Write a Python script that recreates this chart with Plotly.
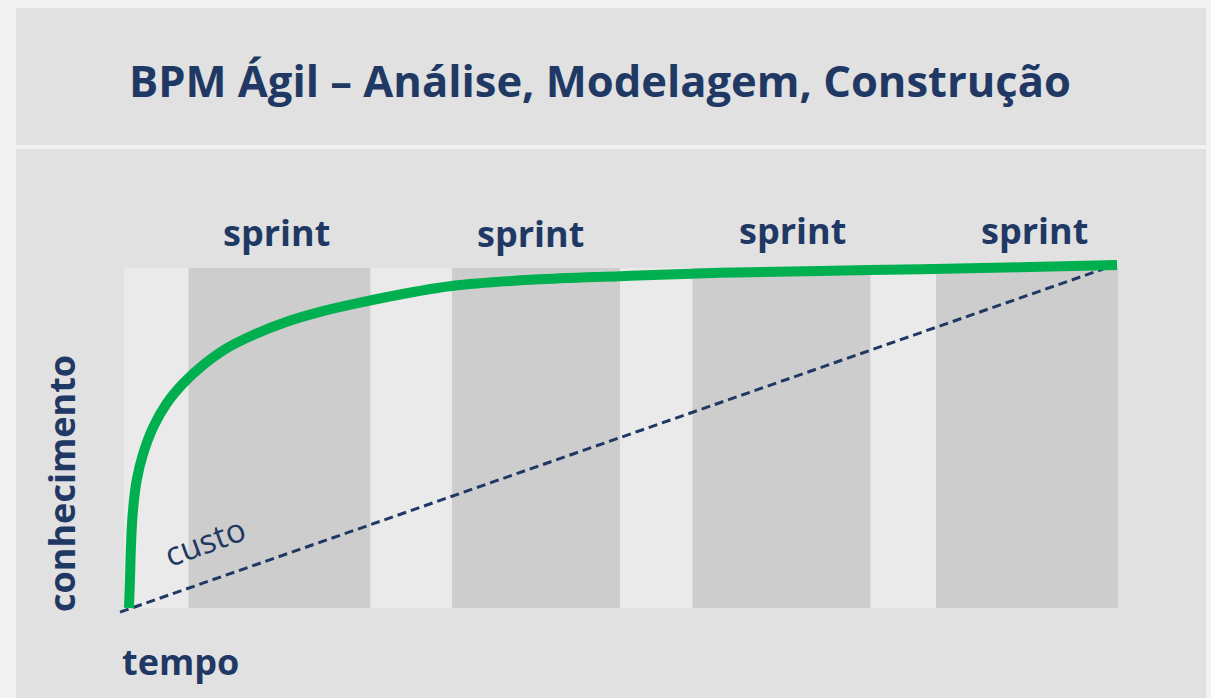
import plotly.graph_objects as go

# ---- data ----
title_text = "BPM Ágil – Análise, Modelagem, Construção"
y_label = "conhecimento"
x_label = "tempo"
cost_label = "custo"
sprint_labels = ["sprint", "sprint", "sprint", "sprint"]
sprint_label_x = [15.3, 40.9, 67.3, 91.6]

# band edges along time axis (light, dark alternating)
band_edges = [0, 6.5, 24.8, 33.0, 49.9, 57.2, 75.1, 81.7, 100]

# knowledge curve
know_x = [0.5, 0.60, 0.70, 0.88, 1.28, 1.94, 2.95, 4.30, 5.97, 7.98, 10.33, 13.0,
          16.37, 19.72, 23.74, 29.28, 32.97, 41.3, 49.9, 60.0, 75.05, 90.1, 99.9]
know_y = [0.0, 8.2, 18.0, 27.9, 37.6, 45.5, 53.3, 60.2, 66.1, 71.5, 76.4, 80.3,
          84.2, 87.1, 89.8, 93.0, 94.7, 96.6, 97.6, 98.6, 99.4, 100.2, 100.9]

# cost line
cost_x = [-0.4, 98.5]
cost_y = [-1.2, 99.7]

# ---- layout geometry ----
W, H = 1211, 698
ML, MR, MT, MB = 100, 71, 250, 73
PW, PH = W - ML - MR, H - MT - MB


def px(xp):
    return (xp - ML) / PW


def py(yp):
    return (H - MB - yp) / PH


NAVY = "#1f3864"
GREEN = "#00b050"
PANEL = "#e1e1e1"
LIGHT = "#eaeaea"
DARK = "#cdcdcd"

fig = go.Figure()

shapes = []
# slide panels
shapes.append(dict(type="rect", xref="paper", yref="paper", x0=px(16), x1=px(1206),
                   y0=py(145), y1=py(8), fillcolor=PANEL, line_width=0, layer="below"))
shapes.append(dict(type="rect", xref="paper", yref="paper", x0=px(16), x1=px(1206),
                   y0=py(700), y1=py(149), fillcolor=PANEL, line_width=0, layer="below"))
# bands
for i in range(len(band_edges) - 1):
    shapes.append(dict(type="rect", xref="x", yref="y",
                       x0=band_edges[i], x1=band_edges[i + 1], y0=0, y1=100,
                       fillcolor=LIGHT if i % 2 == 0 else DARK,
                       line_width=0, layer="below"))

fig.add_trace(go.Scatter(x=cost_x, y=cost_y, mode="lines",
                         line=dict(color=NAVY, width=3, dash="9px,5px"),
                         hoverinfo="skip", showlegend=False))
fig.add_trace(go.Scatter(x=know_x, y=know_y, mode="lines",
                         line=dict(color=GREEN, width=10, shape="spline", smoothing=1.0),
                         hoverinfo="skip", showlegend=False))

ann = []
ann.append(dict(text=title_text, xref="paper", yref="paper", x=px(127), y=py(80),
                xanchor="left", yanchor="middle", showarrow=False,
                font=dict(family="Open Sans", size=43.5, color=NAVY, weight="bold")))
sprint_y = [232, 233, 230, 230]
for lab, xs, ys in zip(sprint_labels, sprint_label_x, sprint_y):
    ann.append(dict(text=lab, xref="x", yref="paper", x=xs, y=py(ys),
                    xanchor="center", yanchor="middle", showarrow=False,
                    font=dict(family="Open Sans", size=36, color=NAVY, weight="bold")))
ann.append(dict(text=y_label, xref="paper", yref="paper", x=px(61), y=py(484),
                xanchor="center", yanchor="middle", textangle=-90, showarrow=False,
                font=dict(family="Open Sans", size=36, color=NAVY, weight="bold")))
ann.append(dict(text=x_label, xref="paper", yref="paper", x=px(120), y=py(661),
                xanchor="left", yanchor="middle", showarrow=False,
                font=dict(family="Open Sans", size=36, color=NAVY, weight="bold")))
ann.append(dict(text=cost_label, xref="paper", yref="paper", x=px(204), y=py(541),
                xanchor="center", yanchor="middle", textangle=-20, showarrow=False,
                font=dict(family="Open Sans", size=33, color=NAVY)))

fig.update_layout(
    width=W, height=H,
    margin=dict(l=ML, r=MR, t=MT, b=MB),
    paper_bgcolor="#f2f2f2", plot_bgcolor="rgba(0,0,0,0)",
    shapes=shapes, annotations=ann,
    xaxis=dict(range=[-2.414, 102.21], visible=False, fixedrange=True),
    yaxis=dict(range=[-5, 105.29], visible=False, fixedrange=True),
    showlegend=False,
)

fig.write_html("out.html", config={"displayModeBar": False},
               post_script="document.body.style.margin='0px';")
